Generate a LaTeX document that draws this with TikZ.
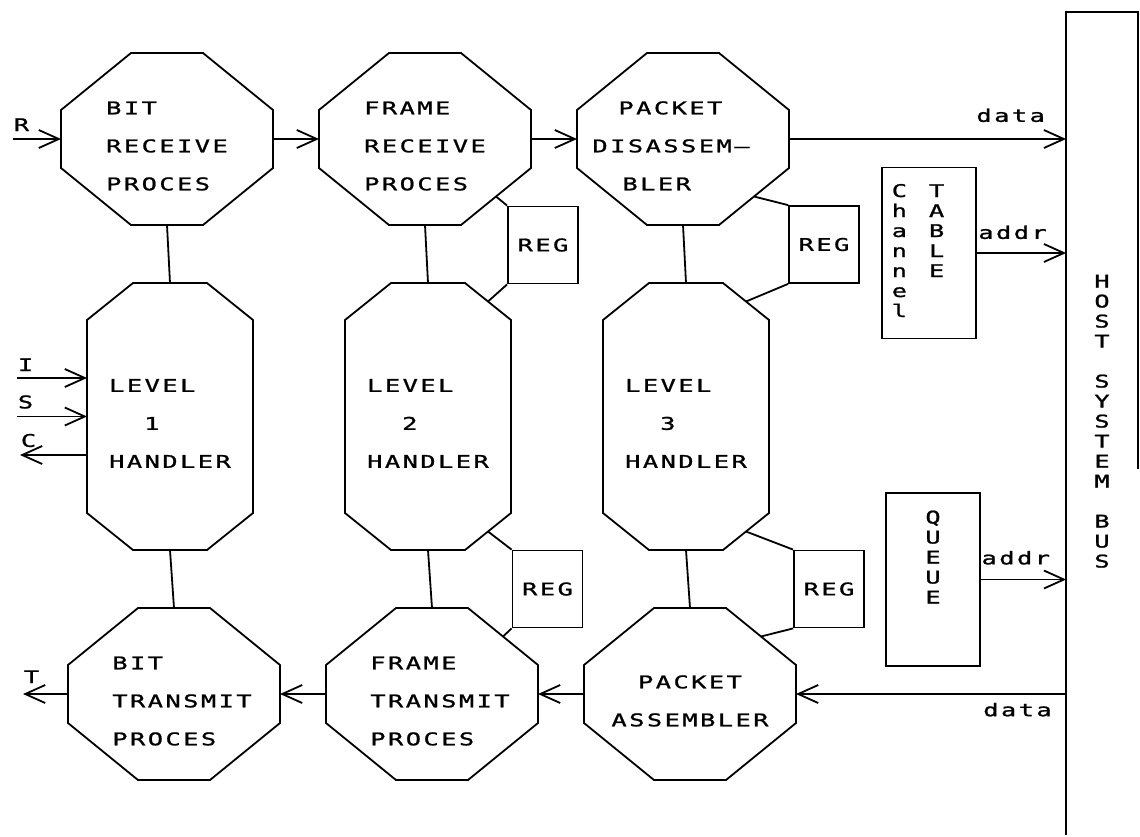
\documentclass[tikz,border=0pt]{standalone}
\usepackage{fontspec}
\newfontfamily\plotfont[LetterSpace=14, FakeStretch=1.45, FakeBold=1.2]{DejaVu Sans Mono}
\newcommand{\octfont}{\plotfont\fontsize{17.5pt}{38pt}\selectfont}
\newcommand{\stackfont}{\plotfont\fontsize{17.5pt}{20pt}\selectfont}
\usetikzlibrary{calc,arrows.meta,positioning}

% lines of a process name, set a little below the middle
\newcommand{\procname}[2][l]{\begin{tabular}{@{}#1@{}}\rule{0pt}{38pt}#2\end{tabular}}

% octagon outline round an invisible node: name, corner cut x, corner cut y
\newcommand{\octo}[3]{%
  \draw ($(#1.north west)+(#2,0)$) -- ($(#1.north east)+(-#2,0)$)
    -- ($(#1.north east)+(0,#3)$) -- ($(#1.south east)+(0,-#3)$)
    -- ($(#1.south east)+(-#2,0)$) -- ($(#1.south west)+(#2,0)$)
    -- ($(#1.south west)+(0,-#3)$) -- ($(#1.north west)+(0,#3)$) -- cycle;
  \coordinate (#1-ne) at ($(#1.north east)+(-#2/2,#3/2)$);
  \coordinate (#1-se) at ($(#1.south east)+(-#2/2,-#3/2)$);
}

\begin{document}
\begin{tikzpicture}[x=1pt, y=-1pt, line width=1.8pt, >={Straight Barb[length=20pt,width=18pt]},
  proc/.style={inner sep=0pt, outer sep=0pt, minimum width=212pt, minimum height=172pt, font=\octfont},
  handler/.style={proc, minimum width=166pt, minimum height=267pt},
  reg/.style={draw, inner sep=0pt, minimum width=70pt, minimum height=77pt, font=\octfont},
  store/.style={draw, inner sep=0pt, minimum width=94pt, minimum height=171pt, font=\stackfont},
  sig/.style={font=\stackfont, inner sep=0pt}]
\useasboundingbox (0,0) rectangle (1140,836);

% receive side
\node[proc] (brp) at (167,139) {\procname{BIT\\RECEIVE\\PROCES}};
\node[proc, right=46pt of brp] (frp) {\procname{FRAME\\RECEIVE\\PROCES}};
\node[proc, right=46pt of frp] (pda) {\procname{\hspace*{26pt}PACKET\\DISASSEM–\hspace*{24pt}\\\hspace*{30pt}BLER}};

% handlers
\node[handler, below=58pt of brp, xshift=3pt] (lh1) {\procname{LEVEL\\\hspace*{35pt}1\\HANDLER}};
\node[handler, below=58pt of frp, xshift=3pt] (lh2) {\procname{LEVEL\\\hspace*{35pt}2\\HANDLER}};
\node[handler, below=58pt of pda, xshift=3pt] (lh3) {\procname{LEVEL\\\hspace*{35pt}3\\HANDLER}};

% transmit side
\node[proc, below=58pt of lh1, xshift=4pt] (btp) {\procname{\hspace*{16pt}BIT\\\hspace*{16pt}TRANSMIT\\\hspace*{16pt}PROCES}};
\node[proc, below=58pt of lh2, xshift=4pt] (ftp) {\procname{\hspace*{16pt}FRAME\\\hspace*{16pt}TRANSMIT\\\hspace*{16pt}PROCES}};
\node[proc, below=58pt of lh3, xshift=4pt] (pa) {\procname[c]{PACKET\\ASSEMBLER}};

\foreach \n/\cx/\cy in {brp/70/57, frp/70/57, pda/70/57, lh1/46/37, lh2/46/37, lh3/46/37, btp/70/57, ftp/70/57, pa/70/57}
  {\octo{\n}{\cx}{\cy}}

% registers
\node[reg] (rega) at (543,245) {REG};
\node[reg] (regb) at (824,244.5) {REG};
\node[reg] (regc) at (547.5,589) {REG};
\node[reg] (regd) at (829,589) {REG};

% tables and bus
\node[store] (tab) at (929,253) {\begin{tabular}{@{}c@{\hspace{22pt}}c@{\hspace{22pt}}}C&T\\h&A\\a&B\\n&L\\n&E\\e&\\l&\end{tabular}};
\node[store, minimum height=173pt] (que) at (933,579.5) {\begin{tabular}{@{}c@{}}Q\\U\\E\\U\\E\\{}\\{}\end{tabular}};
\node[font=\stackfont, inner sep=0pt, minimum width=70pt, minimum height=821pt] (bus) at (1102,423.5) {\begin{tabular}{@{}c@{}}H\\O\\S\\T\\{}\\S\\Y\\S\\T\\E\\M\\{}\\B\\U\\S\end{tabular}};
\draw (bus.south west) -- (bus.north west) -- (bus.north east) -- ($(bus.north east)+(0,457)$);

% columns
\draw (brp.south) -- (lh1.north);
\draw (lh1.south) -- (btp.north);
\draw (frp.south) -- (lh2.north);
\draw (lh2.south) -- (ftp.north);
\draw (pda.south) -- (lh3.north);
\draw (lh3.south) -- (pa.north);

% register links
\draw (frp-se) -- (rega.north west) (rega.south west) -- (lh2-ne);
\draw (pda-se) -- (regb.north west) (regb.south west) -- (lh3-ne);
\draw (lh2-se) -- (regc.north west) (regc.south west) -- (ftp-ne);
\draw (lh3-se) -- (regd.north west) (regd.south west) -- (pa-ne);

% data flow
\coordinate (rin) at (13,139);
\draw[->] (rin) -- node[sig, pos=0, anchor=south west, yshift=7pt]{R} (brp.west);
\draw[->] (brp.east) -- (frp.west);
\draw[->] (frp.east) -- (pda.west);
\draw[->] (pda.east) -- node[sig, pos=.8, above=16pt]{data} (pda.east -| bus.west);
\draw[->] (tab.east) -- node[sig, pos=.4, above=13pt]{addr} (tab.east -| bus.west);
\draw[->] (que.east) -- node[sig, pos=.41, above=14pt]{addr} (que.east -| bus.west);
\draw[->] (pa.east -| bus.west) -- node[sig, pos=.18, below=8pt]{data} (pa.east);
\draw[->] (pa.west) -- (ftp.east);
\draw[->] (ftp.west) -- (btp.east);
\coordinate (tout) at (23,694);
\draw[->] (btp.west) -- node[sig, pos=1, anchor=south west, yshift=10pt]{T} (tout);

% level 1 lines
\coordinate (iin) at (17,378);
\coordinate (sin) at (17,416.5);
\coordinate (cout) at (20,455);
\draw[->] (iin) -- node[sig, pos=0, anchor=south west, yshift=6pt]{I} (iin -| lh1.west);
\draw[->] (sin) -- node[sig, pos=0, anchor=south west, yshift=7pt]{S} (sin -| lh1.west);
\draw[->] (cout -| lh1.west) -- node[sig, pos=1, anchor=south west, yshift=7pt]{C} (cout);
\end{tikzpicture}
\end{document}
